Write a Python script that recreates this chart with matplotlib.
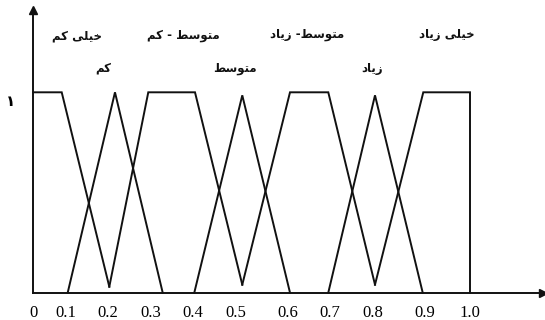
import matplotlib
matplotlib.use('Agg')
import matplotlib.pyplot as plt
import matplotlib.transforms as mtransforms

# axis positions (0 .. 1.0 tick span = 0 .. 1)
tick_pos = [0, 0.0755, 0.172, 0.270, 0.366, 0.4645, 0.5835, 0.680, 0.778, 0.897, 1.0]
tick_labels = ['0', '0.1', '0.2', '0.3', '0.4', '0.5', '0.6', '0.7', '0.8', '0.9', '1.0']

# membership functions: (x, y) corner points
very_low_x = [0, 0.0657, 0.1746]
very_low_y = [1, 1, 0.03]
low_x = [0.0794, 0.1876, 0.2968]
low_y = [0, 1, 0]
med_low_x = [0.1746, 0.2638, 0.3707, 0.4789]
med_low_y = [0.03, 1, 1, 0.04]
med_x = [0.3691, 0.4789, 0.5881]
med_y = [0, 0.985, 0]
med_high_x = [0.4789, 0.5881, 0.6757, 0.7826]
med_high_y = [0.04, 1, 1, 0.04]
high_x = [0.6757, 0.7826, 0.8918]
high_y = [0, 0.985, 0]
very_high_x = [0.7826, 0.8931, 1.0, 1.0]
very_high_y = [0.04, 1, 1, 0]

set_names = ['خیلی کم', 'کم', 'متوسط - کم', 'متوسط', 'متوسط- زیاد', 'زیاد', 'خیلی زیاد']
name_x = [0.1007, 0.160, 0.343, 0.462, 0.627, 0.776, 0.947]
name_y = [1.281, 1.121, 1.281, 1.121, 1.286, 1.121, 1.286]

# matplotlib has no arabic shaping, so pick presentation forms by hand
forms = {
    'خ': '\uFEA5\uFEA6\uFEA7\uFEA8',
    'ی': '\uFBFC\uFBFD\uFBFE\uFBFF',
    'ل': '\uFEDD\uFEDE\uFEDF\uFEE0',
    'ک': '\uFB8E\uFB8F\uFB90\uFB91',
    'م': '\uFEE1\uFEE2\uFEE3\uFEE4',
    'ت': '\uFE95\uFE96\uFE97\uFE98',
    'و': '\uFEED\uFEEE\uFEED\uFEEE',
    'س': '\uFEB1\uFEB2\uFEB3\uFEB4',
    'ط': '\uFEC1\uFEC2\uFEC3\uFEC4',
    'ز': '\uFEAF\uFEB0\uFEAF\uFEB0',
    'ا': '\uFE8D\uFE8E\uFE8D\uFE8E',
    'د': '\uFEA9\uFEAA\uFEA9\uFEAA',
}
right_only = set('وزاد')


def shape(text):
    out = []
    for i, c in enumerate(text):
        if c not in forms:
            out.append(c)
            continue
        prev = text[i - 1] if i > 0 else ''
        nxt = text[i + 1] if i + 1 < len(text) else ''
        jp = prev in forms and prev not in right_only
        jn = nxt in forms and c not in right_only
        f = forms[c]
        if jp and jn:
            out.append(f[3])
        elif jp:
            out.append(f[1])
        elif jn:
            out.append(f[2])
        else:
            out.append(f[0])
    return ''.join(reversed(out))


fig = plt.figure(figsize=(5.45, 3.2), dpi=100)
ax = fig.add_axes([33 / 545, 27.3 / 320, 510 / 545, 282.7 / 320])

lc = '#111111'
lw = 1.4
for xs, ys in [(very_low_x, very_low_y), (low_x, low_y), (med_low_x, med_low_y),
               (med_x, med_y), (med_high_x, med_high_y), (high_x, high_y),
               (very_high_x, very_high_y)]:
    ax.plot(xs, ys, color=lc, lw=lw, solid_joinstyle='miter', clip_on=False)

for name, x, y in zip(set_names, name_x, name_y):
    ax.text(x, y, shape(name), ha='center', va='center', fontsize=8.5,
            fontweight='bold', family='DejaVu Sans', color='#111111')

ax.set_xlim(0, 510 / 437)
ax.set_ylim(0, 282.7 / 200.4)

for s in ['top', 'right']:
    ax.spines[s].set_visible(False)
for s in ['left', 'bottom']:
    ax.spines[s].set_linewidth(lw)
    ax.spines[s].set_color(lc)

# arrow heads on the axes
ax.plot(1, 0, '>', color=lc, ms=6, transform=ax.get_yaxis_transform(), clip_on=False)
ax.plot(0, 1, '^', color=lc, ms=6, transform=ax.get_xaxis_transform(), clip_on=False)

ax.set_xticks(tick_pos, tick_labels, family='Liberation Serif', fontsize=12)
ax.tick_params(axis='x', length=0, pad=9)
ax.set_yticks([1], ['\u06F1'], fontsize=11, family='DejaVu Sans', fontweight='bold')
ax.tick_params(axis='y', length=0, pad=13)
for lab in ax.get_yticklabels():
    lab.set_transform(lab.get_transform() +
                      mtransforms.ScaledTranslation(0, -8 / 100, fig.dpi_scale_trans))

fig.savefig('out.png', dpi=100)
